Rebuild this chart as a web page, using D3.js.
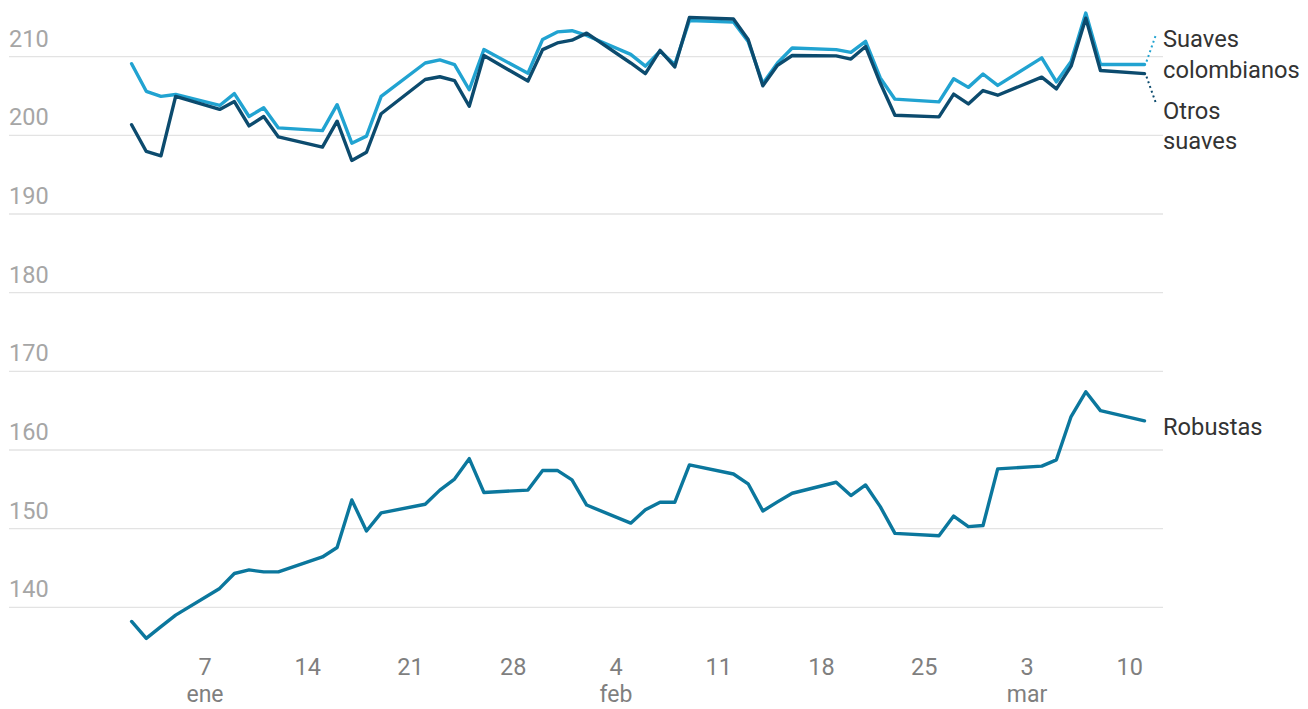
<!DOCTYPE html>
<html>
<head>
<meta charset="utf-8">
<script src="https://cdn.jsdelivr.net/npm/d3@7"></script>
<style>
  body { margin: 0; background: #fff; }
  svg { font-family: Roboto, "Noto Sans", sans-serif; }
</style>
</head>
<body>
<div id="chart"></div>
<script>
// trading days, 2024
var dates = ["2024-01-02","2024-01-03","2024-01-04","2024-01-05","2024-01-08","2024-01-09","2024-01-10","2024-01-11","2024-01-12",
  "2024-01-15","2024-01-16","2024-01-17","2024-01-18","2024-01-19","2024-01-22","2024-01-23","2024-01-24","2024-01-25","2024-01-26",
  "2024-01-29","2024-01-30","2024-01-31","2024-02-01","2024-02-02","2024-02-05","2024-02-06","2024-02-07","2024-02-08","2024-02-09",
  "2024-02-12","2024-02-13","2024-02-14","2024-02-15","2024-02-16","2024-02-19","2024-02-20","2024-02-21","2024-02-22","2024-02-23",
  "2024-02-26","2024-02-27","2024-02-28","2024-02-29","2024-03-01","2024-03-04","2024-03-05","2024-03-06","2024-03-07","2024-03-08",
  "2024-03-11"];

var suavesColombianos = [209.1,205.6,204.95,205.2,203.8,205.3,202.4,203.5,200.95,
  200.6,203.9,199.0,199.9,204.95,209.2,209.6,209.0,205.8,210.9,
  207.9,212.2,213.15,213.3,212.7,210.3,208.8,210.7,209.0,214.6,
  214.4,211.95,206.6,209.2,211.1,210.9,210.55,211.95,207.3,204.6,
  204.25,207.2,206.1,207.8,206.35,209.85,206.8,209.4,215.55,209.0,
  209.0];

var otrosSuaves = [201.35,197.95,197.4,204.95,203.3,204.3,201.2,202.4,199.8,
  198.5,201.8,196.8,197.85,202.75,207.1,207.45,206.95,203.7,210.15,
  206.9,210.9,211.75,212.1,213.0,209.2,207.85,210.8,208.7,215.0,
  214.8,212.2,206.3,208.9,210.15,210.1,209.7,211.3,206.65,202.55,
  202.35,205.25,204.0,205.7,205.1,207.4,205.9,208.8,214.9,208.25,
  207.85];

var robustas = [138.2,136.05,137.55,139.0,142.4,144.3,144.75,144.5,144.5,
  146.4,147.6,153.65,149.7,152.0,153.1,154.9,156.3,158.9,154.6,
  154.9,157.4,157.4,156.2,153.0,150.7,152.4,153.35,153.35,158.1,
  156.95,155.7,152.25,153.4,154.5,155.9,154.2,155.55,152.8,149.4,
  149.1,151.6,150.25,150.4,157.6,157.95,158.75,164.25,167.4,165.0,
  163.7];

var yTicks = [140, 150, 160, 170, 180, 190, 200, 210];
var monthNames = ["ene","feb","mar","abr","may","jun","jul","ago","sep","oct","nov","dic"];

var seriesNames = ["Suaves colombianos", "Otros suaves", "Robustas"];
var seriesColors = ["#21a3d1", "#0c4b6e", "#0b779d"];

var svgWidth = 1308, svgHeight = 709;

var svg = d3.select("#chart").append("svg")
  .attr("width", svgWidth)
  .attr("height", svgHeight);

var parseDate = d3.timeParse("%Y-%m-%d");
var days = dates.map(parseDate);

var x = d3.scaleTime()
  .domain(d3.extent(days))
  .range([131.6, 1144.5]);

var y = d3.scaleLinear()
  .domain([140, 210])
  .range([607.3, 56.7]);

// gridlines + y labels
var grid = svg.append("g");
grid.selectAll("line").data(yTicks).enter().append("line")
  .attr("x1", 9).attr("x2", 1163)
  .attr("y1", d => y(d)).attr("y2", d => y(d))
  .attr("stroke", "#e3e3e3").attr("stroke-width", 1.3);
grid.selectAll("text").data(yTicks).enter().append("text")
  .attr("x", 9).attr("y", d => y(d) - 10)
  .attr("fill", "#a6a6a6").style("font-size", "23.5px")
  .text(d => d);

// x axis (weekly ticks, sunday)
var xTicks = x.ticks(d3.timeWeek.every(1));
var seenMonth = {};
var xAxis = svg.append("g");
xTicks.forEach(function(t) {
  xAxis.append("text")
    .attr("x", x(t)).attr("y", 675)
    .attr("text-anchor", "middle")
    .attr("fill", "#7f7f7f").style("font-size", "23.5px")
    .text(t.getDate());
  if (!seenMonth[t.getMonth()]) {
    seenMonth[t.getMonth()] = true;
    xAxis.append("text")
      .attr("x", x(t)).attr("y", 702)
      .attr("text-anchor", "middle")
      .attr("fill", "#7f7f7f").style("font-size", "23px")
      .text(monthNames[t.getMonth()]);
  }
});

// lines
var allSeries = [suavesColombianos, otrosSuaves, robustas];
var line = d3.line()
  .x((d, i) => x(days[i]))
  .y(d => y(d));

allSeries.forEach(function(s, k) {
  svg.append("path")
    .datum(s)
    .attr("fill", "none")
    .attr("stroke", seriesColors[k])
    .attr("stroke-width", 3.4)
    .attr("stroke-linejoin", "round")
    .attr("stroke-linecap", "round")
    .attr("d", line);
});

// labels
var lastX = x(days[days.length - 1]);
var labelX = 1163;

// dotted connectors for the two close lines
svg.append("line")
  .attr("x1", lastX + 2).attr("y1", y(suavesColombianos[suavesColombianos.length - 1]) - 3)
  .attr("x2", lastX + 11).attr("y2", 36)
  .attr("stroke", seriesColors[0]).attr("stroke-width", 2)
  .attr("stroke-dasharray", "2,3");
svg.append("line")
  .attr("x1", lastX + 2).attr("y1", y(otrosSuaves[otrosSuaves.length - 1]) + 3)
  .attr("x2", lastX + 11).attr("y2", 102)
  .attr("stroke", seriesColors[1]).attr("stroke-width", 2)
  .attr("stroke-dasharray", "2,3");

var labelGroup = svg.append("g").attr("fill", "#333").style("font-size", "23.7px");
labelGroup.append("text").attr("x", labelX).attr("y", 47).text("Suaves");
labelGroup.append("text").attr("x", labelX).attr("y", 78).text("colombianos");
labelGroup.append("text").attr("x", labelX).attr("y", 119).text("Otros");
labelGroup.append("text").attr("x", labelX).attr("y", 149).text("suaves");
labelGroup.append("text").attr("x", labelX).attr("y", y(robustas[robustas.length - 1]) + 14).text("Robustas");
</script>
</body>
</html>
